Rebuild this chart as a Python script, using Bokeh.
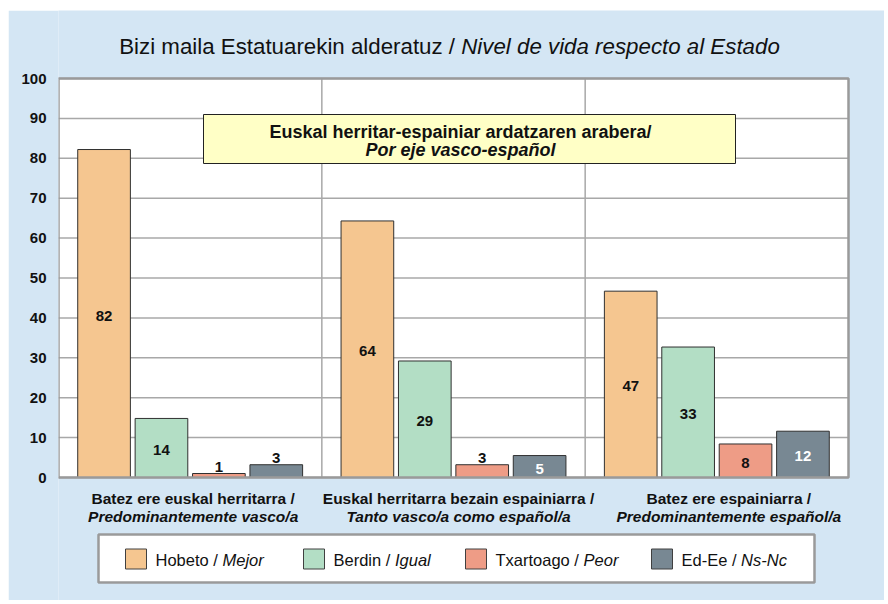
import numpy as np
from bokeh.plotting import figure
from bokeh.models import ColumnDataSource, Range1d, FixedTicker, Label
from bokeh.core.properties import value
from bokeh.transform import dodge
from bokeh.embed import file_html
from bokeh.resources import INLINE

# ---------------- data ----------------
title_main = "Bizi maila Estatuarekin alderatuz / "
title_italic = "Nivel de vida respecto al Estado"
note_line1 = "Euskal herritar-espainiar ardatzaren arabera/"
note_line2 = "Por eje vasco-español"

categories_eu = ["Batez ere euskal herritarra /",
                 "Euskal herritarra bezain espainiarra /",
                 "Batez ere espainiarra /"]
categories_es = ["Predominantemente vasco/a",
                 "Tanto vasco/a como español/a",
                 "Predominantemente español/a"]

series_eu = ["Hobeto / ", "Berdin / ", "Txartoago / ", "Ed-Ee / "]
series_es = ["Mejor", "Igual", "Peor", "Ns-Nc"]

hobeto = [82.2, 64.3, 46.7]
berdin = [14.8, 29.2, 32.7]
txartoago = [1.0, 3.2, 8.4]
ed_ee = [3.2, 5.5, 11.6]

hobeto_lbl = [82, 64, 47]
berdin_lbl = [14, 29, 33]
txartoago_lbl = [1, 3, 8]
ed_ee_lbl = [3, 5, 12]

y_ticks = list(range(0, 101, 10))

# ---------------- style / layout ----------------
FONT = "Liberation Sans"
BG = "#D4E6F4"
COLORS = ["#F5C690", "#B3DEC5", "#EE9C86", "#788893"]
LABEL_COLORS = ["#111111", "#111111", "#111111", "#FFFFFF"]
GRID = "#A8A8A8"
N_CAT = len(categories_eu)

# page geometry (pixels) of the figure and of the plotting area
FIG_X, FIG_Y = 8, 10          # figure placed by its margin
AXIS_W = 50                   # room for the y tick labels
PLOT_L, PLOT_R = 58, 848      # plotting area, page px
PLOT_T, PLOT_B = 78, 477
PAGE_R, PAGE_B = 884, 600     # end of the blue panel

PX_PER_X = (PLOT_R - PLOT_L) / N_CAT
PX_PER_Y = (PLOT_B - PLOT_T) / 100.0

def dx(px):
    return (px - PLOT_L) / PX_PER_X

def dy(py):
    return (PLOT_B - py) / PX_PER_Y

def dw(w):
    return w / PX_PER_X

# Helvetica / Arial advance widths (per 1000 em)
REG = {' ': 278, '/': 278, '-': 333, 'ñ': 556}
for c, w in zip("ABCDEFGHIJKLMNOPQRSTUVWXYZ",
                [667, 667, 722, 722, 667, 611, 778, 722, 278, 500, 667, 556, 833,
                 722, 778, 667, 778, 722, 667, 611, 722, 667, 944, 667, 667, 611]):
    REG[c] = w
for c, w in zip("abcdefghijklmnopqrstuvwxyz",
                [556, 556, 500, 556, 556, 278, 556, 556, 222, 222, 500, 222, 833,
                 556, 556, 556, 556, 333, 500, 278, 556, 500, 722, 500, 500, 500]):
    REG[c] = w

def text_width(s, size):
    return sum(REG.get(c, 556) for c in s) * size / 1000.0

frame_w = PAGE_R - PLOT_L
frame_h = PAGE_B - FIG_Y
p = figure(frame_width=frame_w, frame_height=frame_h,
           x_range=Range1d(dx(PLOT_L), dx(PAGE_R)),
           y_range=Range1d(dy(PAGE_B), dy(FIG_Y)),
           output_backend="svg", toolbar_location=None,
           min_border_left=AXIS_W, min_border_right=0,
           min_border_top=0, min_border_bottom=0,
           background_fill_color=BG, border_fill_color=BG)
p.margin = (FIG_Y, 0, 0, FIG_X)
p.outline_line_color = None
p.xaxis.visible = False
p.xgrid.visible = False
p.ygrid.visible = False

p.yaxis.ticker = FixedTicker(ticks=y_ticks)
p.yaxis.axis_line_color = None
p.yaxis.major_tick_line_color = None
p.yaxis.minor_tick_line_color = None
p.yaxis.major_label_standoff = 6
p.yaxis.major_label_text_font = FONT
p.yaxis.major_label_text_font_size = "15px"
p.yaxis.major_label_text_font_style = "bold"
p.yaxis.major_label_text_color = "#111111"

# white plotting area
p.quad(left=[0], right=[N_CAT], bottom=[y_ticks[0]], top=[y_ticks[-1]],
       fill_color="white", line_color=None)
# grid lines from the tick values
p.segment(x0=[0] * len(y_ticks), x1=[N_CAT] * len(y_ticks), y0=y_ticks, y1=y_ticks,
          line_color=GRID, line_width=1.5)
sep = list(range(1, N_CAT))
p.segment(x0=sep, x1=sep, y0=[y_ticks[0]] * len(sep), y1=[y_ticks[-1]] * len(sep),
          line_color=GRID, line_width=1.5)

# bars and value labels
centers = np.arange(N_CAT) + 0.5
series_vals = [hobeto, berdin, txartoago, ed_ee]
series_lbls = [hobeto_lbl, berdin_lbl, txartoago_lbl, ed_ee_lbl]
STEP = 0.218
BAR_W = 0.2
for j, (vals, lbls) in enumerate(zip(series_vals, series_lbls)):
    off = (j - 1.5) * STEP
    src = ColumnDataSource(dict(x=centers, top=vals))
    p.vbar(x=dodge('x', off, range=p.x_range), top='top', width=BAR_W, source=src,
           fill_color=COLORS[j], line_color="#303030", line_width=1)
    inside = dict(x=[], y=[], t=[])
    above = dict(x=[], y=[], t=[])
    for c, v, l in zip(centers, vals, lbls):
        if v >= 5:
            inside["x"].append(c + off); inside["y"].append(v / 2.0 - 2 / PX_PER_Y)
            inside["t"].append(str(l))
        else:
            above["x"].append(c + off); above["y"].append(v + 2 / PX_PER_Y)
            above["t"].append(str(l))
    if inside["x"]:
        p.text(x='x', y='y', text='t', source=ColumnDataSource(inside),
               text_align="center", text_baseline="middle", text_font=value(FONT),
               text_font_size="15px", text_font_style="bold", text_color=LABEL_COLORS[j])
    if above["x"]:
        p.text(x='x', y='y', text='t', source=ColumnDataSource(above),
               text_align="center", text_baseline="bottom", text_font=value(FONT),
               text_font_size="15px", text_font_style="bold", text_color="#111111")

# plotting-area border
p.quad(left=[0], right=[N_CAT], bottom=[y_ticks[0]], top=[y_ticks[-1]],
       fill_color=None, line_color="#9A9A9A", line_width=2.5)

# yellow note box
p.quad(left=[dx(203)], right=[dx(735)], top=[dy(114)], bottom=[dy(163)],
       fill_color="#FFFFC6", line_color="#222222", line_width=1)
for txt, py, style in [(note_line1, 131, "bold"), (note_line2, 149, "bold italic")]:
    p.add_layout(Label(x=dx(460), y=dy(py), text=txt, text_align="center",
                       text_baseline="middle", text_font=FONT, text_font_size="18px",
                       text_font_style=style, text_color="#111111"))

# title (normal + italic part)
T_SIZE = 22.3
w1 = text_width(title_main, T_SIZE)
w2 = text_width(title_italic, T_SIZE)
t_left = 449 - (w1 + w2) / 2.0
p.add_layout(Label(x=dx(t_left), y=dy(45.5), text=title_main, text_align="left",
                   text_baseline="middle", text_font=FONT, text_font_size=f"{T_SIZE}px",
                   text_color="#111111"))
p.add_layout(Label(x=dx(t_left + w1), y=dy(45.5), text=title_italic, text_align="left",
                   text_baseline="middle", text_font=FONT, text_font_size=f"{T_SIZE}px",
                   text_font_style="italic", text_color="#111111"))

# category labels
CAT_SHIFT = [3, 5, 12]
C_SIZE = "15.5px"
for i in range(N_CAT):
    cx = centers[i] + dw(CAT_SHIFT[i])
    p.add_layout(Label(x=cx, y=dy(498), text=categories_eu[i], text_align="center",
                       text_baseline="middle", text_font=FONT, text_font_size=C_SIZE,
                       text_font_style="bold", text_color="#111111"))
    p.add_layout(Label(x=cx, y=dy(516), text=categories_es[i], text_align="center",
                       text_baseline="middle", text_font=FONT, text_font_size=C_SIZE,
                       text_font_style="bold italic", text_color="#111111"))

# legend
p.quad(left=[dx(98)], right=[dx(814)], top=[dy(534)], bottom=[dy(582)],
       fill_color="white", line_color="#9A9A9A", line_width=2.5)
LEG_X = [125, 303, 465, 651]
L_SIZE = 16.5
p.quad(left=[dx(x) for x in LEG_X], right=[dx(x + 21) for x in LEG_X],
       top=[dy(548.5)] * len(LEG_X), bottom=[dy(568.5)] * len(LEG_X),
       fill_color=COLORS, line_color="#404040", line_width=1)
for j in range(len(series_eu)):
    tx = LEG_X[j] + 30
    p.add_layout(Label(x=dx(tx), y=dy(559), text=series_eu[j], text_align="left",
                       text_baseline="middle", text_font=FONT, text_font_size=f"{L_SIZE}px",
                       text_color="#111111"))
    p.add_layout(Label(x=dx(tx + text_width(series_eu[j], L_SIZE)), y=dy(559),
                       text=series_es[j], text_align="left",
                       text_baseline="middle", text_font=FONT, text_font_size=f"{L_SIZE}px",
                       text_font_style="italic", text_color="#111111"))

open("out.html", "w").write(file_html(p, INLINE))
